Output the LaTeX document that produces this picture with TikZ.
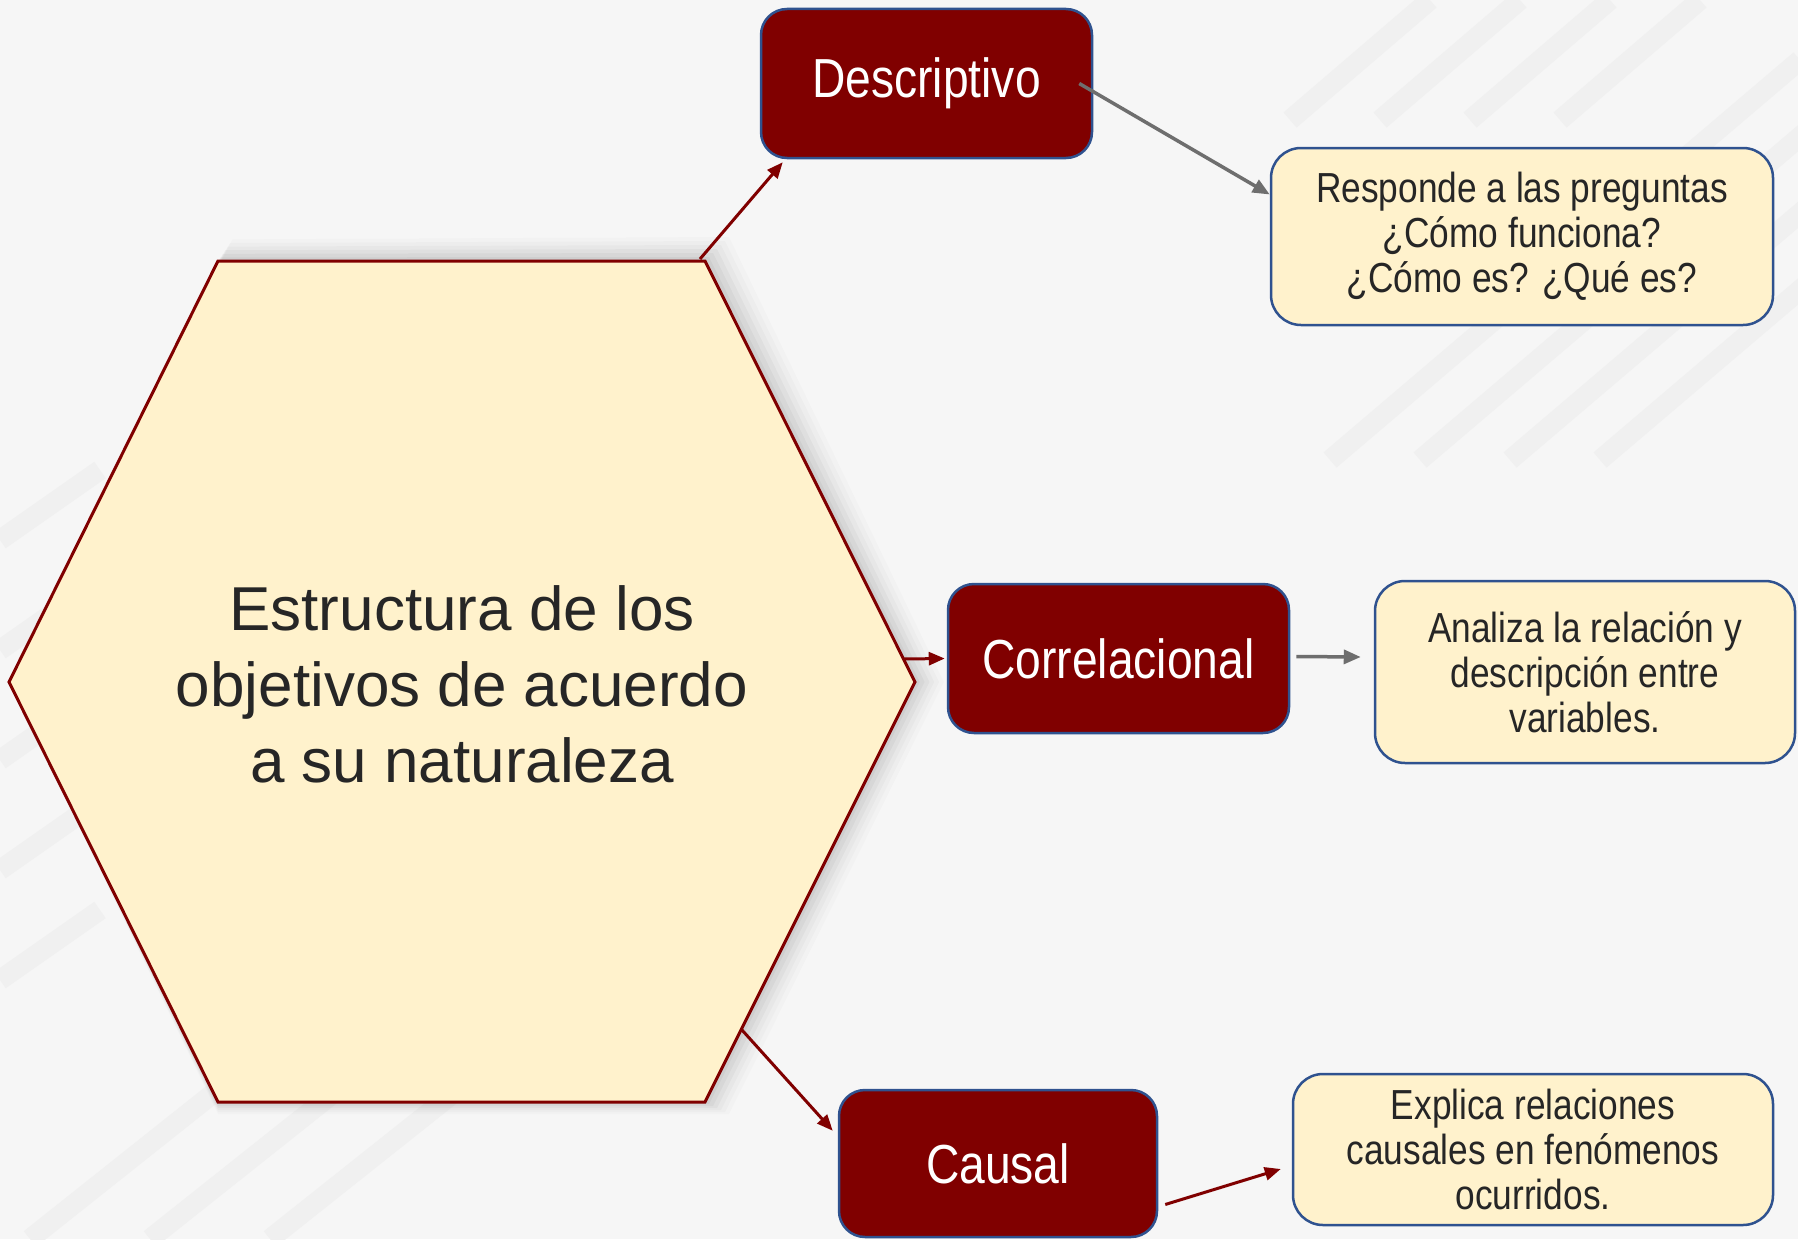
\documentclass[tikz,border=0pt]{standalone}
\usepackage{fontspec}
\setmainfont{Liberation Sans}
\newfontfamily\condfont[FakeStretch=0.84]{Liberation Sans}
\usetikzlibrary{arrows.meta,calc}
\definecolor{bgcol}{HTML}{F6F6F6}
\definecolor{stripecol}{HTML}{F0F0F0}
\definecolor{maroon}{HTML}{800000}
\definecolor{bordblue}{HTML}{2F528F}
\definecolor{cream}{HTML}{FFF2CC}
\definecolor{txtgray}{HTML}{262626}
\definecolor{arrgray}{HTML}{6E6E6E}
\tikzset{
  darkbox/.style={draw=bordblue, line width=2.5pt, fill=maroon, rounded corners=26pt,
    text=white, font=\condfont\fontsize{55}{62}\selectfont, align=center, inner sep=0pt},
  creambox/.style={draw=bordblue, line width=2.5pt, fill=cream, rounded corners=30pt,
    text=txtgray, font=\condfont\fontsize{42}{45}\selectfont, align=center, inner sep=0pt},
  redarrow/.style={draw=maroon, line width=3pt, -{Triangle[length=16pt,width=13pt]}},
  grayarrow/.style={draw=arrgray, line width=3.5pt, -{Triangle[length=17pt,width=14pt]}},
  stripe/.style={stripecol, line width=20pt}
}
\begin{document}
\begin{tikzpicture}[x=1pt,y=-1pt]
\fill[bgcol] (0,0) rectangle (1798,1239);
\useasboundingbox (0,0) rectangle (1798,1239);
% faint background stripes
\begin{scope}
\clip (0,0) rectangle (1798,1239);
\foreach \s in {0,90,180,270}{
  \draw[stripe] (1290+\s,120) -- (1430+\s,0);
  \draw[stripe] (1330+\s,460) -- (1800+\s,60);
}
\foreach \s in {0,110,220,330,440}{
  \draw[stripe] (0,540+\s) -- (100,470+\s);
}
\foreach \s in {0,120,240}{
  \draw[stripe] (30+\s,1239) -- (230+\s,1080);
}
\end{scope}
% hexagon corners
\coordinate (hTL) at (218,261);
\coordinate (hTR) at (705,261);
\coordinate (hR) at (915,682);
\coordinate (hBR) at (705,1102);
\coordinate (hBL) at (218,1102);
\coordinate (hL) at (9,682);
% soft shadow
\foreach \o/\op in {24/0.015,20/0.02,16/0.025,12/0.03,8/0.035,4/0.04}{
  \fill[black, opacity=\op] ($(hTL)+(\o*0.6,-\o*0.9)$) -- ($(hTR)+(\o,-\o)$) -- ($(hR)+(\o*1.2,0)$) -- ($(hBR)+(\o,\o*0.5)$) -- ($(hBL)+(0,\o*0.5)$) -- (hL) -- cycle;
}
\fill[cream] (hTL) -- (hTR) -- (hR) -- (hBR) -- (hBL) -- (hL) -- cycle;
\draw[maroon, line width=3pt, line join=miter] (hTL) -- (hTR) -- (hR) -- (hBR) -- (hBL) -- (hL) -- cycle;
\node[text=txtgray, font=\fontsize{62}{76}\selectfont, align=center] (hex) at (462,684)
  {Estructura de los\\objetivos de acuerdo\\a su naturaleza};
% boxes
\node[darkbox, minimum width=331pt, minimum height=149pt] (desc) at (926.5,83.5) {Descriptivo};
\node[darkbox, minimum width=341pt, minimum height=149pt] (corr) at (1118.5,658.5) {Correlacional};
\node[darkbox, minimum width=318pt, minimum height=147pt] (caus) at (998,1163.5) {Causal};
\node[creambox, minimum width=502pt, minimum height=177pt] (resp) at (1522,236.5)
  {Responde a las preguntas\\¿Cómo funciona?\\¿Cómo es? ¿Qué es?};
\node[creambox, minimum width=420pt, minimum height=182pt] (anal) at (1585,672)
  {Analiza la relación y\\descripción entre\\variables.};
\node[creambox, minimum width=480pt, minimum height=151pt] (expl) at (1533,1149.5)
  {Explica relaciones\\causales en fenómenos\\ocurridos.};
% connector endpoints
\coordinate (s1) at ($(hTR)+(-5,-2)$);
\coordinate (e1) at ($(desc.south west)+(23,3)$);
\coordinate (s2) at ($(desc.east)+(-14,0)$);
\coordinate (e2) at ($(resp.west)+(0,-42)$);
\coordinate (s3) at (904,659);
\coordinate (e3) at ($(corr.west)+(-2,0)$);
\coordinate (s4) at ($(corr.east)+(6,-2)$);
\coordinate (e4) at ($(anal.west)+(-13,-15)$);
\coordinate (s5) at (742,1030);
\coordinate (e5) at ($(caus.north west)+(-5,42)$);
\coordinate (s6) at ($(caus.east)+(7,41)$);
\coordinate (e6) at ($(expl.west)+(-11,19.5)$);
\draw[redarrow] (s1) -- (e1);
\draw[grayarrow] (s2) -- (e2);
\draw[redarrow] (s3) -- (e3);
\draw[grayarrow] (s4) -- (e4);
\draw[redarrow] (s5) -- (e5);
\draw[redarrow] (s6) -- (e6);
\end{tikzpicture}
\end{document}
